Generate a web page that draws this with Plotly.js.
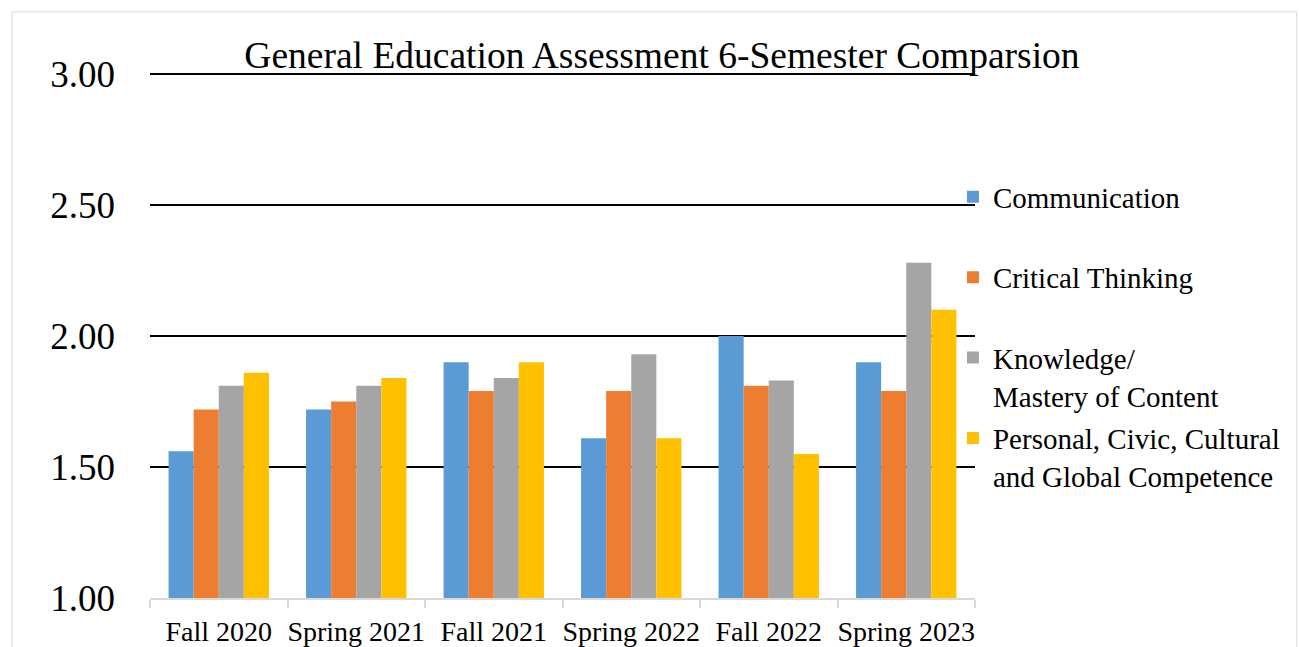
<!DOCTYPE html>
<html>
<head>
<meta charset="utf-8">
<script src="https://cdn.plot.ly/plotly-3.0.1.min.js"></script>
<style>
  html, body { margin: 0; padding: 0; background: #ffffff; }
  #chart { width: 1299px; height: 647px; }
</style>
</head>
<body>
<div id="chart"></div>
<script>
const semesters = ["Fall 2020", "Spring 2021", "Fall 2021", "Spring 2022", "Fall 2022", "Spring 2023"];
const communication = [1.56, 1.72, 1.90, 1.61, 2.00, 1.90];
const criticalThinking = [1.72, 1.75, 1.79, 1.79, 1.81, 1.79];
const knowledgeMastery = [1.81, 1.81, 1.84, 1.93, 1.83, 2.28];
const personalCivic = [1.86, 1.84, 1.90, 1.61, 1.55, 2.10];
const seriesNames = [
  "Communication<br> ",
  "Critical Thinking<br> ",
  "Knowledge/<br>Mastery of Content",
  "Personal, Civic, Cultural<br>and Global Competence"
];
const seriesColors = ["#5B9BD5", "#ED7D31", "#A5A5A5", "#FFC000"];
const yTickVals = [1.0, 1.5, 2.0, 2.5, 3.0];
const yTickText = ["1.00", "1.50", "2.00", "2.50", "3.00"];
const yRange = [1, 3.004];
const chartTitle = "General Education Assessment 6-Semester Comparsion";

const allValues = [communication, criticalThinking, knowledgeMastery, personalCivic];
const traces = allValues.map((vals, i) => ({
  type: "bar",
  name: seriesNames[i],
  x: semesters,
  y: vals,
  base: 0,
  legendgroup: "g" + i,
  marker: { color: seriesColors[i], line: { width: 0 } },
  hoverinfo: "x+y+name"
}));

const font = "Liberation Serif, Times New Roman, serif";

const layout = {
  width: 1299,
  height: 647,
  autosize: false,
  paper_bgcolor: "#ffffff",
  plot_bgcolor: "#ffffff",
  margin: { l: 150, r: 324, t: 73, b: 49, pad: 0 },
  barmode: "group",
  bargap: 0.27,
  bargroupgap: 0,
  font: { family: font, color: "#000000", size: 28 },
  title: {
    text: chartTitle,
    font: { family: font, size: 37.5, color: "#000000" },
    xref: "container",
    yref: "container",
    x: 0.5096,
    xanchor: "center",
    y: 0.915,
    yanchor: "middle",
    pad: { t: 0, b: 0, l: 0, r: 0 }
  },
  xaxis: {
    type: "category",
    showline: true,
    linecolor: "#d9d9d9",
    linewidth: 2,
    ticks: "outside",
    tickson: "boundaries",
    ticklen: 8,
    tickwidth: 2,
    tickcolor: "#d9d9d9",
    tickangle: 0,
    ticklabelstandoff: 7,
    showgrid: false,
    zeroline: false,
    tickfont: { family: font, size: 28, color: "#000000" },
    fixedrange: true
  },
  yaxis: {
    range: yRange,
    tickvals: yTickVals,
    ticktext: yTickText,
    showgrid: true,
    gridcolor: "#000000",
    gridwidth: 2,
    zeroline: false,
    showline: false,
    ticks: "",
    ticklabelstandoff: 34,
    tickfont: { family: font, size: 37, color: "#000000" },
    fixedrange: true
  },
  showlegend: true,
  legend: {
    x: 0.9733,
    xanchor: "left",
    y: 0.8126,
    yanchor: "top",
    traceorder: "grouped",
    tracegroupgap: 2,
    valign: "top",
    bgcolor: "rgba(0,0,0,0)",
    font: { family: font, size: 29, color: "#000000" },
    itemclick: false,
    itemdoubleclick: false
  },
  shapes: [
    {
      type: "rect",
      xref: "paper",
      yref: "paper",
      x0: -0.1673,
      x1: 1.390,
      y0: -0.14,
      y1: 1.1164,
      line: { color: "#d9d9d9", width: 1 },
      fillcolor: "rgba(0,0,0,0)",
      layer: "below"
    }
  ]
};

Plotly.newPlot("chart", traces, layout, { displayModeBar: false, staticPlot: true });
</script>
</body>
</html>
